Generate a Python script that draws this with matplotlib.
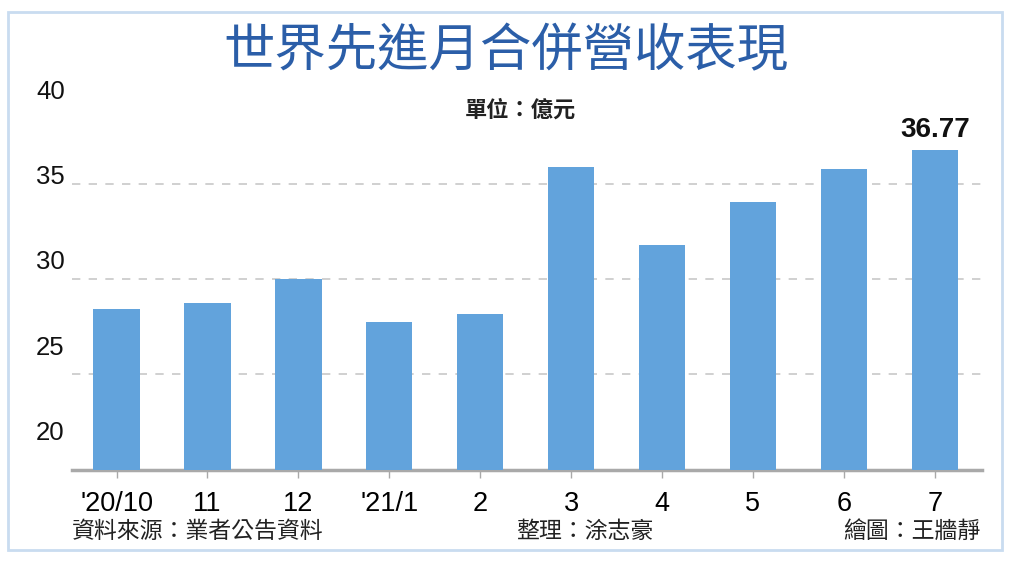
import matplotlib.pyplot as plt
from matplotlib.patches import Rectangle
import numpy as np

plt.rcParams['font.family'] = ['Liberation Sans', 'Noto Sans CJK TC', 'DejaVu Sans']

# Data (億元)
months = ["'20/10", '11', '12', "'21/1", '2', '3', '4', '5', '6', '7']
revenue = [28.45, 28.75, 29.98, 27.77, 28.18, 35.88, 31.77, 34.04, 35.74, 36.77]
y_labels = ['20', '25', '30', '35', '40']

c_bar = '#62a3dc'
c_title = '#2b5ea8'
c_grid = '#c8c8c8'
c_axis = '#a9a9a9'
cjk = ['Noto Sans CJK TC', 'DejaVu Sans']

fig = plt.figure(figsize=(10.24, 5.76), dpi=100)
fig.patch.set_facecolor('white')

# light blue frame
fig.patches.append(Rectangle((8 / 1024, 26 / 576), 994 / 1024, 538 / 576,
                             transform=fig.transFigure, fill=False,
                             edgecolor='#c9dcf0', linewidth=2))

ax = fig.add_axes([72 / 1024, 106 / 576, 910 / 1024, 382 / 576])
x = np.arange(len(months))
ax.bar(x, revenue, width=0.51, color=c_bar, zorder=3)
ax.set_xlim(-0.49, 9.52)
ax.set_ylim(20, 40)

# dashed grid lines
for g in [25, 30, 35]:
    ax.axhline(g, color=c_grid, linestyle=(0, (5, 5)), linewidth=1.2, zorder=1)

for s in ['top', 'right', 'left']:
    ax.spines[s].set_visible(False)
ax.spines['bottom'].set_color(c_axis)
ax.spines['bottom'].set_linewidth(2.5)

ax.set_xticks(x)
ax.set_xticklabels(months, fontsize=19.5)
ax.tick_params(axis='x', length=6, width=1, color=c_axis, pad=9)
ax.set_yticks([])

# y labels as drawn in the graphic
for frac, lab in zip(np.linspace(0.097, 0.99, len(y_labels)), y_labels):
    ax.text(-0.008, frac, lab, transform=ax.transAxes, ha='right', va='center',
            fontsize=18.5, color='#111111')

# last value label
ax.text(x[-1], revenue[-1] + 0.35, f'{revenue[-1]:.2f}', ha='center', va='bottom',
        fontsize=20, fontweight='bold', color='#111111')

fig.text(0.494, 0.91, '世界先進月合併營收表現', ha='center', va='center',
         fontsize=37, color=c_title, family=cjk)
fig.text(0.508, 0.808, '單位：億元', ha='center', va='center',
         fontsize=16, fontweight='bold', color='#222222', family=cjk)

fig.text(72 / 1024, 0.077, '資料來源：業者公告資料', ha='left', va='center',
         fontsize=16.5, color='#222222', family=cjk)
fig.text(516 / 1024, 0.077, '整理：涂志豪', ha='left', va='center',
         fontsize=16.5, color='#222222', family=cjk)
fig.text(980 / 1024, 0.077, '繪圖：王牆靜', ha='right', va='center',
         fontsize=16.5, color='#222222', family=cjk)

plt.savefig('out.png', dpi=100, facecolor='white')
